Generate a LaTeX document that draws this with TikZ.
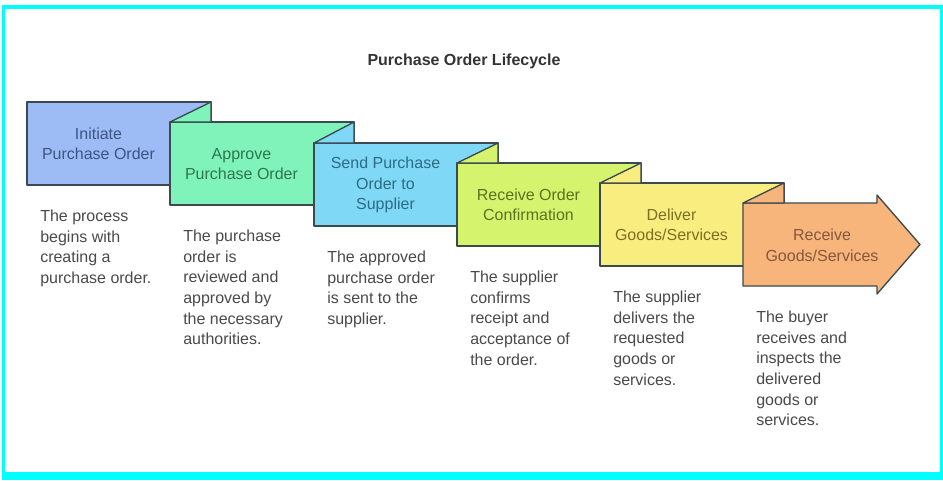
\documentclass[tikz,border=0pt]{standalone}
\usepackage{fontspec}
\setmainfont{Liberation Sans}
\usetikzlibrary{calc}
\definecolor{framec}{HTML}{00FFFF}
\definecolor{edgec}{HTML}{3A4A4F}
\definecolor{titlec}{HTML}{333333}
\definecolor{descc}{HTML}{4A4A4A}
\definecolor{c1}{HTML}{9DBCF6}\definecolor{t1}{HTML}{3B5584}
\definecolor{c2}{HTML}{80F3BB}\definecolor{t2}{HTML}{2E7650}
\definecolor{c3}{HTML}{80D8F7}\definecolor{t3}{HTML}{2C6C84}
\definecolor{c4}{HTML}{D5F36C}\definecolor{t4}{HTML}{5B7321}
\definecolor{c5}{HTML}{F9ED80}\definecolor{t5}{HTML}{7B6F25}
\definecolor{c6}{HTML}{F7B57C}\definecolor{t6}{HTML}{86573A}
\begin{document}
\begin{tikzpicture}[x=0.75pt,y=-0.75pt,
  outline/.style={draw=edgec, line width=1pt, line join=round},
  boxbody/.style={outline, minimum width=138pt, minimum height=62.25pt, anchor=north west, inner sep=0pt, outer sep=0pt},
  boxlabel/.style={align=center, inner sep=0pt, font=\fontsize{12}{15.4}\selectfont},
  desc/.style={align=left, anchor=north west, inner sep=0pt, text=descc, font=\fontsize{12}{15.4}\selectfont},
  flap/.style={outline}
]
\useasboundingbox (0,0) rectangle (943,480);
\fill[framec] (2,5) rectangle (943,480);
\fill[white] (5,9) rectangle (940,472);

\node[font=\bfseries\fontsize{12}{14}\selectfont, text=titlec] (title) at (464,61.5) {Purchase Order Lifecycle};

% boxes
\node[boxbody, fill=c1] (b1) at (27,102) {};
\node[boxbody, fill=c2] (b2) at (170,122) {};
\path[flap, fill=c2] (b2.north west) -- (b1.north east) -- (b1.north east |- b2.north) -- cycle;
\node[boxbody, fill=c3] (b3) at (314,143) {};
\path[flap, fill=c3] (b3.north west) -- (b2.north east) -- (b2.north east |- b3.north) -- cycle;
\node[boxbody, fill=c4] (b4) at (457,163) {};
\path[flap, fill=c4] (b4.north west) -- (b3.north east) -- (b3.north east |- b4.north) -- cycle;
\node[boxbody, fill=c5] (b5) at (600,183) {};
\path[flap, fill=c5] (b5.north west) -- (b4.north east) -- (b4.north east |- b5.north) -- cycle;
% final arrow
\coordinate (a6) at (743,203);
\coordinate (tip) at (920,244.5);
\path[outline, fill=c6] (a6) -- (877,203) -- (877,195) -- (tip) -- (877,294) -- (877,286) -- (743,286) -- cycle;
\path[flap, fill=c6] (a6) -- (b5.north east) -- (b5.north east |- a6) -- cycle;

% labels
\node[boxlabel, text=t1] (l1) at ($(b1.west)+(71.5,0.5)$) {Initiate\\Purchase Order};
\node[boxlabel, text=t2] (l2) at ($(b2.west)+(71.5,0.5)$) {Approve\\Purchase Order};
\node[boxlabel, text=t3] (l3) at ($(b3.west)+(71.5,0.5)$) {Send Purchase\\Order to\\Supplier};
\node[boxlabel, text=t4] (l4) at ($(b4.west)+(71.5,0.5)$) {Receive Order\\Confirmation};
\node[boxlabel, text=t5] (l5) at ($(b5.west)+(71.5,0.5)$) {Deliver\\Goods/Services};
\node[boxlabel, text=t6] (l6) at (822,245.5) {Receive\\Goods/Services};

% descriptions
\node[desc] (d1) at ($(b1.south west)+(13,25)$) {The process\\begins with\\creating a\\purchase order.};
\node[desc] (d2) at ($(b2.south west)+(13,25)$) {The purchase\\order is\\reviewed and\\approved by\\the necessary\\authorities.};
\node[desc] (d3) at ($(b3.south west)+(13,25)$) {The approved\\purchase order\\is sent to the\\supplier.};
\node[desc] (d4) at ($(b4.south west)+(13,25)$) {The supplier\\confirms\\receipt and\\acceptance of\\the order.};
\node[desc] (d5) at ($(b5.south west)+(13,25)$) {The supplier\\delivers the\\requested\\goods or\\services.};
\node[desc] (d6) at (756,311) {The buyer\\receives and\\inspects the\\delivered\\goods or\\services.};
\end{tikzpicture}
\end{document}
